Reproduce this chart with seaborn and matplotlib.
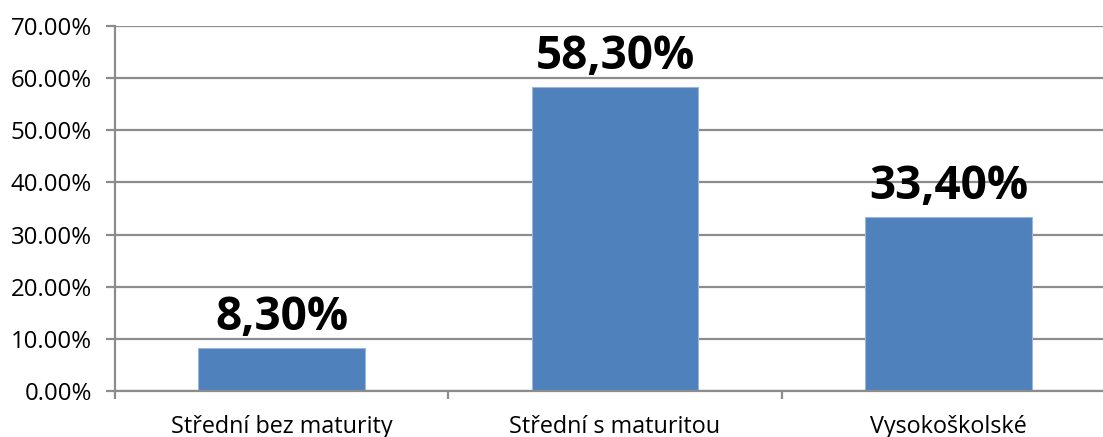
import matplotlib
matplotlib.use("Agg")
import matplotlib.pyplot as plt
import seaborn as sns
import pandas as pd
from matplotlib.ticker import FuncFormatter, FixedLocator

categories = ["Střední bez maturity", "Střední s maturitou", "Vysokoškolské"]
values = [8.30, 58.30, 33.40]
value_labels = ["8,30%", "58,30%", "33,40%"]
y_ticks = [0, 10, 20, 30, 40, 50, 60, 70]

sns.set_theme(style="white")
plt.rcParams['font.family'] = ['Open Sans', 'DejaVu Sans']

W, H = 1103, 437
fig = plt.figure(figsize=(W / 100, H / 100), dpi=100)
left, right, top, bottom = 115, 1115, 26, 391
ax = fig.add_axes([left / W, (H - bottom) / H, (right - left) / W, (bottom - top) / H])

df = pd.DataFrame({"cat": categories, "val": values})
sns.barplot(data=df, x="cat", y="val", color="#4F81BD", width=0.5, saturation=1,
            ax=ax, edgecolor="#9BB7DC", linewidth=0.8)

ax.set_ylim(0, 70)
ax.set_xlim(-0.5, 2.5)
ax.set_yticks(y_ticks)
ax.yaxis.set_major_formatter(FuncFormatter(lambda v, p: f"{v:.2f}%"))
ax.grid(axis="y", color="#8C8C8C", linewidth=1.6)
ax.set_axisbelow(True)

for s in ["top", "right"]:
    ax.spines[s].set_visible(False)
for s in ["left", "bottom"]:
    ax.spines[s].set_color("#8C8C8C")
    ax.spines[s].set_linewidth(1.6)

ax.tick_params(axis="y", which="major", length=6.5, width=1.6, color="#8C8C8C",
               labelsize=17.3, labelcolor="black", pad=10, left=True)
ax.tick_params(axis="x", which="major", length=0, labelsize=16.8, labelcolor="black", pad=17)
ax.xaxis.set_minor_locator(FixedLocator([-0.5, 0.5, 1.5, 2.5]))
ax.tick_params(axis="x", which="minor", length=6, width=1.6, color="#8C8C8C", bottom=True)
ax.set_xlabel("")
ax.set_ylabel("")

ax.bar_label(ax.containers[0], labels=value_labels, fontsize=33, fontweight="bold",
             color="black", padding=5)

fig.savefig("out.png", dpi=100)
